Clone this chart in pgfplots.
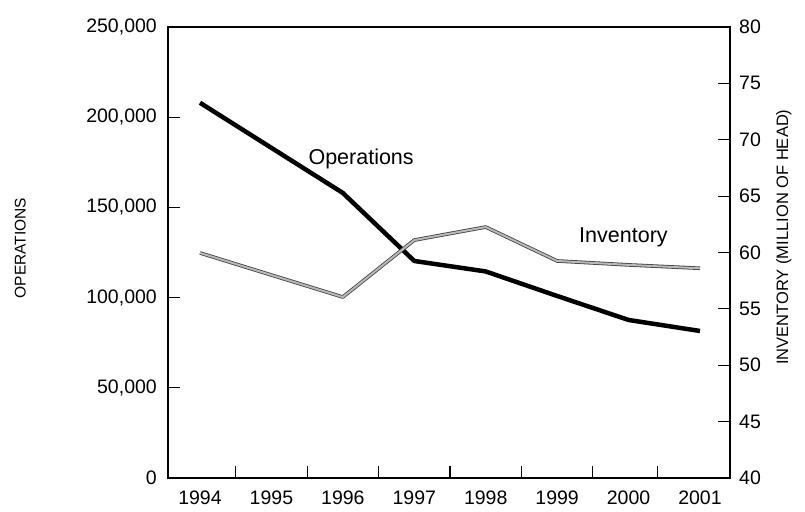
\documentclass[border=0pt]{standalone}
\usepackage{fontspec}
\setmainfont{Liberation Sans}
\usepackage{pgfplots}
\pgfplotsset{compat=1.18}
\begin{document}
\begin{tikzpicture}
\pgfplotsset{
  common/.style={
    scale only axis, width=562pt, height=451pt,
    xmin=1993.552, xmax=2001.42,
    axis line style={line width=1.1pt, black},
    tick align=inside,
    major tick length=12pt,
    tick style={line width=1.1pt, black},
    tick label style={font=\fontsize{19.5}{20}\selectfont},
    clip=false,
  }
}
\begin{axis}[common, name=ax1,
  ymin=0, ymax=250000,
  xtick={1994.5,1995.5,1996.5,1997.5,1998.5,1999.5,2000.4},
  xticklabels={},
  extra x ticks={1994,1995,1996,1997,1998,1999,2000,2001},
  extra x tick labels={1994,1995,1996,1997,1998,1999,2000,2001},
  extra x tick style={tick style={draw=none},
    xticklabel style={anchor=north, inner sep=0pt, yshift=-13pt}},
  xtick pos=bottom, ytick pos=left,
  ytick={0,50000,100000,150000,200000,250000},
  yticklabels={0,{50,000},{100,000},{150,000},{200,000},{250,000}},
  scaled y ticks=false,
  yticklabel style={anchor=east, inner sep=0pt, xshift=-11pt},
  every axis y label/.style={at={(axis description cs:-0.263,0.51)}, rotate=90, anchor=center,
    font=\fontsize{15.5}{16}\selectfont},
  ylabel={OPERATIONS},
]
\addplot[black, line width=4.5pt, line join=round] coordinates {
(1994,208000) (1995,183000) (1996,158000) (1997,120300) (1998,114500)
(1999,100900) (2000,87600) (2001,81500)
};
\node[anchor=west, font=\fontsize{21.5}{22}\selectfont] at (axis cs:1995.47,176800) {Operations};
\node[anchor=west, font=\fontsize{21.5}{22}\selectfont] at (axis cs:1999.26,133600) {Inventory};
\end{axis}
\begin{axis}[common,
  ymin=40, ymax=80,
  hide x axis,
  axis y line*=right,
  ytick pos=right,
  ytick={40,45,50,55,60,65,70,75,80},
  yticklabels={40,45,50,55,60,65,70,75,80},
  yticklabel style={anchor=west, inner sep=0pt, xshift=9pt},
  every axis y label/.style={at={(axis description cs:1.096,0.534)}, rotate=90, anchor=center,
    font=\fontsize{16.5}{17}\selectfont},
  ylabel={INVENTORY (MILLION OF HEAD)},
]
\addplot[draw=black!75, line width=0.8pt, double=gray!55, double distance=2pt, line join=round] coordinates {
(1994,59.96) (1995,58.0) (1996,56.05) (1997,61.1) (1998,62.26)
(1999,59.25) (2000,58.9) (2001,58.6)
};
\end{axis}
\pgfresetboundingbox
\path ([shift={(-168pt,-33pt)}]ax1.south west) rectangle ([shift={(75pt,27pt)}]ax1.north east);
\end{tikzpicture}
\end{document}
